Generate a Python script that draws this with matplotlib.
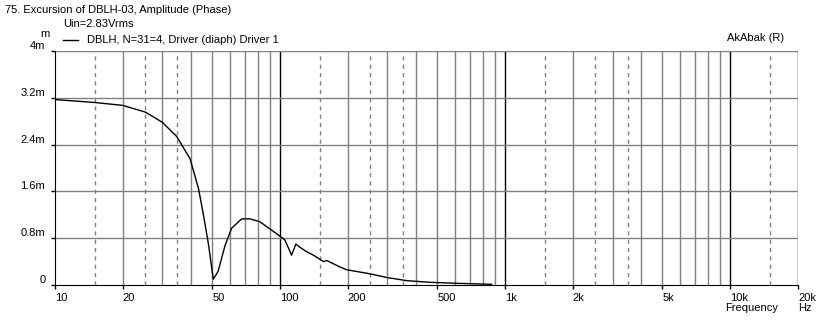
import matplotlib
matplotlib.use("Agg")
import matplotlib.pyplot as plt

plt.rcParams['font.family'] = ['Liberation Sans', 'DejaVu Sans']

# Excursion curve (Hz, mm)
freq = [10, 15, 20, 25, 26.4, 30, 34.7, 39.8, 43.4, 45.5, 48, 50.5, 53, 57, 60.9,
        67.5, 73.6, 81.4, 90, 99.5, 105, 112.5, 117.5, 122, 131, 140.6, 156, 161,
        184, 198, 252, 296, 366, 464, 609, 870]
excursion = [3.17, 3.12, 3.07, 2.96, 2.91, 2.78, 2.54, 2.16, 1.65, 1.23, 0.71, 0.10,
             0.23, 0.68, 0.97, 1.13, 1.13, 1.08, 0.96, 0.84, 0.77, 0.51, 0.70, 0.65,
             0.57, 0.51, 0.40, 0.42, 0.31, 0.26, 0.19, 0.13, 0.074, 0.046, 0.029, 0.012]

xticks = [10, 20, 50, 100, 200, 500, 1000, 2000, 5000, 10000, 20000]
xlabels = ["10", "20", "50", "100", "200", "500", "1k", "2k", "5k", "10k", "20k"]
yticks = [0, 0.8, 1.6, 2.4, 3.2, 4.0]
ylabels = ["0", "0.8m", "1.6m", "2.4m", "3.2m", "4m"]

grid_solid = [20, 30, 40, 50, 60, 70, 80, 90, 200, 300, 400, 500, 600, 700, 800, 900,
              2000, 3000, 4000, 5000, 6000, 7000, 8000, 9000]
grid_dashed = [15, 25, 35, 150, 250, 350, 1500, 2500, 3500, 15000]
grid_black = [100, 1000, 10000, 20000]

fig = plt.figure(figsize=(8.21, 3.23), dpi=100)
ax = fig.add_axes([55 / 821, 38 / 323, 743 / 821, 234 / 323])
ax.set_xscale('log')
ax.set_xlim(10, 20000)
ax.set_ylim(0, 4)

for v in grid_solid:
    ax.axvline(v, color='#808080', lw=1, zorder=1)
for v in grid_dashed:
    ax.axvline(v, color='#808080', lw=1, ls=(0, (3, 3)), zorder=1)
for v in grid_black:
    ax.axvline(v, color='black', lw=1, zorder=1)
for v in yticks[1:]:
    ax.axhline(v, color='#808080', lw=1, zorder=1)

ax.plot(freq, excursion, color='black', lw=1, zorder=3)

for s in ['top', 'right']:
    ax.spines[s].set_visible(False)
ax.spines['left'].set_color('black')
ax.spines['bottom'].set_color('black')

ax.set_xticks(xticks)
ax.set_xticklabels(xlabels, ha='left')
ax.xaxis.set_minor_locator(matplotlib.ticker.NullLocator())
ax.set_yticks(yticks)
ax.set_yticklabels(ylabels, va='bottom')
ax.tick_params(axis='both', labelsize=8, length=3, width=1, color='black')
ax.tick_params(axis='x', pad=3)
ax.tick_params(axis='y', pad=4)
for lab in ax.get_yticklabels():
    lab.set_y(lab.get_position()[1])

fig.text(5 / 821, 1 - 10 / 323, "75. Excursion of DBLH-03, Amplitude (Phase)",
         fontsize=8, va='center')
fig.text(63 / 821, 1 - 24 / 323, "Uin=2.83Vrms", fontsize=8, va='center')
fig.text(40 / 821, 1 - 34 / 323, "m", fontsize=8, va='center')
fig.add_artist(plt.Line2D([63 / 821, 78 / 821], [1 - 40 / 323, 1 - 40 / 323],
                          color='black', lw=1))
fig.text(87 / 821, 1 - 40 / 323, "DBLH, N=31=4, Driver (diaph) Driver 1",
         fontsize=8, va='center')
fig.text(784 / 821, 1 - 38 / 323, "AkAbak (R)", fontsize=8, va='center', ha='right')
fig.text(725 / 821, 1 - 308 / 323, "Frequency", fontsize=8, va='center')
fig.text(798 / 821, 1 - 308 / 323, "Hz", fontsize=8, va='center')

fig.savefig("out.png", dpi=100)
